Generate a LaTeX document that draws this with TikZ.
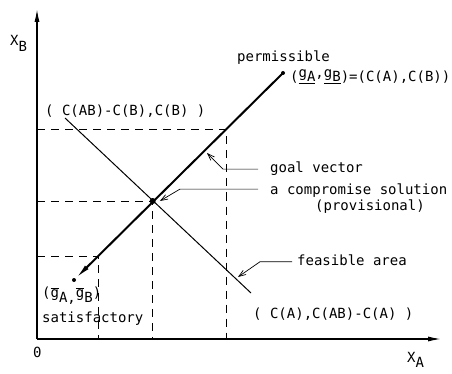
\documentclass[tikz,border=0pt]{standalone}
\usepackage{fontspec}
\setmainfont{DejaVu Sans Mono}
\usetikzlibrary{arrows.meta,calc,positioning}
\newcommand{\lo}[1]{\raisebox{-0.38em}{#1}}
\newcommand{\hi}[1]{\raisebox{0.3em}{#1}}
\newcommand{\ov}[1]{$\overline{\hbox{#1}}$}

\begin{document}
\begin{tikzpicture}[x=1pt,y=-1pt,font=\fontsize{14}{17}\selectfont,
    lbl/.style={inner sep=0pt,anchor=base west},
    axis/.style={line width=1.6pt,-{Latex[length=14pt,width=5pt]}},
    goalline/.style={line width=2pt},
    feasline/.style={line width=1pt},
    guide/.style={line width=0.8pt,dash pattern=on 8pt off 6pt},
    leader/.style={line width=0.7pt,-{Straight Barb[length=7pt,width=5pt]}},
    dot/.style={circle,fill,inner sep=0pt,minimum size=#1}]
  \useasboundingbox (0,0) rectangle (452,374);
  % axes
  \coordinate (O) at (37,339);
  \coordinate (xend) at (442,339);
  \coordinate (yend) at (37,8);
  \draw[axis] (O) -- (xend);
  \draw[axis] (O) -- (yend);
  \node[lbl] (xb) at (10,46) {X\lo{B}};
  \node[lbl] (xa) at (407,362) {X\lo{A}};
  \node[lbl] (zero) at (33,357) {0};
  % points
  \coordinate (S) at (74,280);
  \coordinate (P) at (283,73);
  \coordinate (M) at (152.7,201);
  \coordinate (Q1) at (226,129.5);
  \coordinate (Q2) at (98,256);
  \coordinate (F1) at (65,118);
  \coordinate (F2) at (251,293);
  % guides
  \draw[guide] (O |- Q1) -- (Q1) -- (Q1 |- O);
  \draw[guide] (O |- M) -- (M) -- (M |- O);
  \draw[guide] (O |- Q2) -- (Q2) -- (Q2 |- O);
  % feasible line and goal vector
  \draw[feasline] (F1) -- (F2);
  \draw[goalline,-{Latex[length=16pt,width=5pt]},shorten >=2pt] (P) -- (S);
  \node[dot=4pt] (sat) at (S) {};
  \node[dot=4pt] (perm) at (P) {};
  \node[dot=6pt] (comp) at (M) {};
  % labels
  \node[lbl] (corner) at (45,116) {( C(AB)-C(B),C(B) )};
  \node[lbl] (permlbl) at (237,62) {permissible};
  \node[lbl] (permval) at (290,82)
    {(\underline{\hi{g}A}\hi{,}\underline{\hi{g}B})=(C(A),C(B))};
  \node[lbl] (goal) at (270,173) {goal vector};
  \node[lbl] (complbl) at (270,194) {a compromise solution};
  \node[lbl] (prov) at (315,211) {(provisional)};
  \node[lbl] (feas) at (297,265) {feasible area};
  \node[lbl] (corner2) at (253,318) {( C(A),C(AB)-C(A) )};
  \node[lbl] (satval) at (42,297) {(\ov{g}\lo{A,}\ov{g}\lo{B})};
  \node[lbl] (satlbl) at (42,322) {satisfactory};
  % leaders
  \coordinate (goaltip) at (207,153);
  \coordinate (feastip) at (238,277);
  \draw[leader] ([xshift=-12pt]goal.west) -- ++(-35,0) -- (goaltip);
  \draw[leader] ([xshift=-12pt,yshift=1pt]complbl.west) -- ++(-78,0) -- ([xshift=4pt]comp.east);
  \draw[leader] ([xshift=-5pt,yshift=-2pt]feas.west) -- ++(-32,0) -- (feastip);
\end{tikzpicture}
\end{document}
